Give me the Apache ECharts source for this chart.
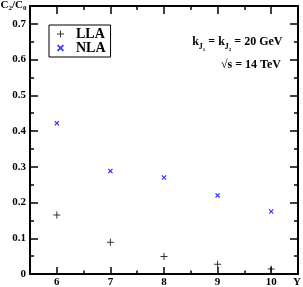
<!DOCTYPE html>
<html>
<head>
<meta charset="utf-8">
<script src="https://cdn.jsdelivr.net/npm/echarts@6/dist/echarts.min.js"></script>
<style>html,body{margin:0;padding:0;background:#fff}#c{width:303px;height:287px}</style>
</head>
<body>
<div id="c"></div>
<script>
var categoriesY = [6, 7, 8, 9, 10];
var llaValues = [0.165, 0.089, 0.049, 0.027, 0.014];
var nlaValues = [0.422, 0.288, 0.270, 0.220, 0.175];
var xTickLabels = [6, 7, 8, 9, 10];
var xMinorTicks = [6.5, 7.5, 8.5, 9.5];
var yTickLabels = [0, 0.1, 0.2, 0.3, 0.4, 0.5, 0.6, 0.7];
var yMinorTicks = [0.05, 0.15, 0.25, 0.35, 0.45, 0.55, 0.65];

var FONT = 'Liberation Serif';
var chart = echarts.init(document.getElementById('c'), null, {renderer: 'canvas'});

function xAx(pos, ticks, len, labels, line) {
  return {
    type: 'value', position: pos, min: 5.5, max: 10.5,
    axisLine: {show: line, onZero: false, lineStyle: {color: '#000', width: 2}},
    axisTick: {show: true, inside: true, length: len, customValues: ticks, lineStyle: {color: '#000', width: 1.5}},
    axisLabel: labels ? {show: true, customValues: labels, margin: 3, color: '#000', fontFamily: FONT, fontWeight: 'bold', fontSize: 11} : {show: false},
    splitLine: {show: false}
  };
}
function yAx(pos, ticks, len, labels, line) {
  return {
    type: 'value', position: pos, min: 0, max: 0.75,
    axisLine: {show: line, onZero: false, lineStyle: {color: '#000', width: 2}},
    axisTick: {show: true, inside: true, length: len, customValues: ticks, lineStyle: {color: '#000', width: 1.5}},
    axisLabel: labels ? {show: true, customValues: labels, margin: 4, color: '#000', fontFamily: FONT, fontWeight: 'bold', fontSize: 11} : {show: false},
    splitLine: {show: false}
  };
}

var plusPath = 'path://M3,0h1v3h3v1h-3v3h-1v-3h-3v-1h3z';
var crossPath = 'path://M0,1L1,0L3,2L5,0L6,1L4,3L6,5L5,6L3,4L1,6L0,5L2,3Z';

function pairs(vals) { return categoriesY.map(function (x, i) { return [x, vals[i]]; }); }

var ctx = document.createElement('canvas').getContext('2d');
function fnt(size) { return 'bold ' + size + 'px "' + FONT + '"'; }
function T(txt, x, y, size, align) {
  return {type: 'text', x: x, y: y, style: {text: txt, fill: '#000', font: fnt(size), textAlign: align || 'left', textVerticalAlign: 'middle'}};
}
// chain pieces [text, size, dy] left to right, right edge at xr
function chain(pieces, xr, y) {
  var widths = pieces.map(function (p) { ctx.font = fnt(p[1]); return ctx.measureText(p[0]).width; });
  var total = widths.reduce(function (a, b) { return a + b; }, 0);
  var x = xr - total, out = [];
  pieces.forEach(function (p, i) { out.push(T(p[0], x, y + (p[2] || 0), p[1])); x += widths[i]; });
  return out;
}

var annotations = [].concat(
  chain([['k', 12], ['J', 8, 5], ['1', 5, 8.5], [' = k', 12], ['J', 8, 5], ['2', 5, 8.5], [' = 20 GeV', 12]], 282.5, 41.5),
  chain([['\u221As = 14 TeV', 12]], 281, 64.5),
  chain([['C', 11], ['2', 7, 3.5], ['/C', 11], ['0', 7, 3.5]], 26.5, 5),
  [T('Y', 297, 282, 11, 'center')]
);

chart.setOption({
  animation: false,
  grid: {left: 30, right: 5, top: 6, bottom: 13, outerBoundsMode: 'none'},
  xAxis: [
    xAx('bottom', xTickLabels, 7, xTickLabels, true),
    xAx('bottom', xMinorTicks, 3.5, null, false),
    xAx('top', xTickLabels, 8, null, true),
    xAx('top', xMinorTicks, 4, null, false)
  ],
  yAxis: [
    yAx('left', yTickLabels, 8, yTickLabels, true),
    yAx('left', yMinorTicks, 4, null, false),
    yAx('right', yTickLabels, 8, null, true),
    yAx('right', yMinorTicks, 4, null, false)
  ],
  legend: {
    data: ['LLA', 'NLA'], orient: 'vertical', left: 49, top: 25,
    itemWidth: 7, itemHeight: 7, itemGap: 0,
    padding: [2, 5, 2, 8],
    borderColor: '#000', borderWidth: 1, borderRadius: 0,
    textStyle: {color: '#000', fontFamily: FONT, fontWeight: 'bold', fontSize: 14, lineHeight: 14, padding: [0, 0, 0, 7]}
  },
  series: [
    {name: 'LLA', type: 'scatter', symbol: plusPath, symbolSize: 7, itemStyle: {color: '#000'}, data: pairs(llaValues)},
    {name: 'NLA', type: 'scatter', symbol: crossPath, symbolSize: 5, itemStyle: {color: '#0000ff'}, data: pairs(nlaValues)}
  ],
  graphic: annotations
});
</script>
</body>
</html>
